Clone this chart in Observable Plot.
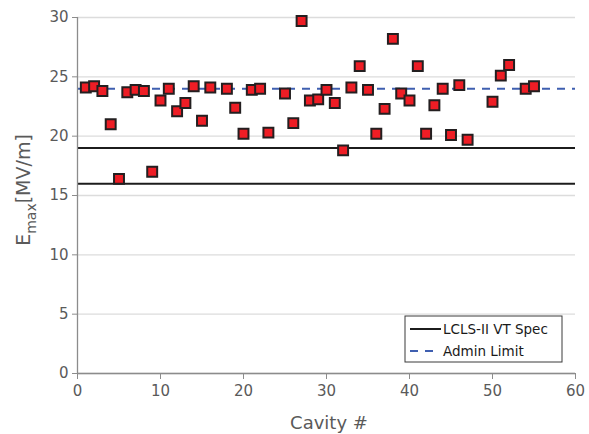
<!DOCTYPE html>
<html><head><meta charset="utf-8">
<script src="https://cdn.jsdelivr.net/npm/d3@7"></script>
<script src="https://cdn.jsdelivr.net/npm/@observablehq/plot@0.6"></script>
<style>body{margin:0;background:#fff;} #chart svg{display:block;}</style>
</head><body><div id="chart"></div>
<script>
const cavity = [1,2,3,4,5,6,7,8,9,10,11,12,13,14,15,16,18,19,20,21,22,23,25,26,27,28,29,30,31,32,33,34,35,36,37,38,39,40,41,42,43,44,45,46,47,50,51,52,54,55];
const emax   = [24.1,24.2,23.8,21.0,16.4,23.7,23.9,23.8,17.0,23.0,24.0,22.1,22.8,24.2,21.3,24.1,24.0,22.4,20.2,23.9,24.0,20.3,23.6,21.1,29.7,23.0,23.1,23.9,22.8,18.8,24.1,25.9,23.9,20.2,22.3,28.2,23.6,23.0,25.9,20.2,22.6,24.0,20.1,24.3,19.7,22.9,25.1,26.0,24.0,24.2];
const specLimits = [16, 19];
const adminLimit = [24];
const xTicks = [0,10,20,30,40,50,60];
const yTicks = [0,5,10,15,20,25,30];
const legendLabels = ["LCLS-II VT Spec", "Admin Limit"];
const xTitle = "Cavity #";

const data = cavity.map((c, i) => ({cavity: c, emax: emax[i]}));
const font = "'DejaVu Sans', sans-serif";
const textColor = "#5a5a5a";
const axisColor = "#8c8c8c";

const plot = Plot.plot({
  width: 589, height: 434,
  marginLeft: 77, marginRight: 14, marginTop: 17, marginBottom: 61,
  style: {fontFamily: font, fontSize: "15px", color: textColor, background: "#fff"},
  x: {domain: [0, 60]},
  y: {domain: [0, 30]},
  marks: [
    Plot.gridY(yTicks, {stroke: "#dcdcdc", strokeOpacity: 1, strokeWidth: 1.3}),
    Plot.ruleY(specLimits, {x1: 0, x2: 60, stroke: "#1c1c1c", strokeWidth: 2}),
    Plot.ruleY(adminLimit, {x1: 0, x2: 60, stroke: "#3f5fb0", strokeWidth: 2, strokeDasharray: "8,7"}),
    Plot.axisY(yTicks, {tickSize: 5, tickPadding: 4, stroke: axisColor, fill: textColor, label: null, fontSize: 15}),
    Plot.axisX(xTicks, {tickSize: 6, tickPadding: 6, stroke: axisColor, fill: textColor, label: null, fontSize: 15}),
    Plot.ruleX([0], {stroke: axisColor, strokeWidth: 1.3}),
    Plot.ruleY([0], {stroke: axisColor, strokeWidth: 1.3}),
    Plot.dot(data, {x: "cavity", y: "emax", symbol: "square", r: 5.6, fill: "#ee1d25", stroke: "#231f20", strokeWidth: 2})
  ]
});
document.getElementById("chart").appendChild(plot);

const svg = d3.select(plot);
// axis titles
svg.append("text").attr("x", 329).attr("y", 429).attr("text-anchor", "middle")
  .attr("font-family", font).attr("font-size", 18).attr("fill", textColor).text(xTitle);
const yl = svg.append("text").attr("transform", "translate(30,190) rotate(-90)").attr("text-anchor", "middle")
  .attr("font-family", font).attr("font-size", 19).attr("fill", textColor);
yl.append("tspan").text("E");
yl.append("tspan").attr("font-size", 14).attr("dy", 6).text("max");
yl.append("tspan").attr("dy", -6).text("[MV/m]");

// legend
const lg = svg.append("g").attr("font-family", font).attr("font-size", 13.5).attr("fill", "#1a1a1a").attr("text-anchor", "start");
lg.append("rect").attr("x", 405).attr("y", 316).attr("width", 157).attr("height", 46)
  .attr("fill", "#fff").attr("stroke", "#3a3a3a").attr("stroke-width", 1);
lg.append("line").attr("x1", 410).attr("x2", 441).attr("y1", 329).attr("y2", 329).attr("stroke", "#1c1c1c").attr("stroke-width", 2);
lg.append("line").attr("x1", 410).attr("x2", 437).attr("y1", 351).attr("y2", 351).attr("stroke", "#3f5fb0").attr("stroke-width", 2).attr("stroke-dasharray", "8,7");
lg.append("text").attr("x", 443).attr("y", 334).text(legendLabels[0]);
lg.append("text").attr("x", 443).attr("y", 356).text(legendLabels[1]);
</script>
</body></html>
